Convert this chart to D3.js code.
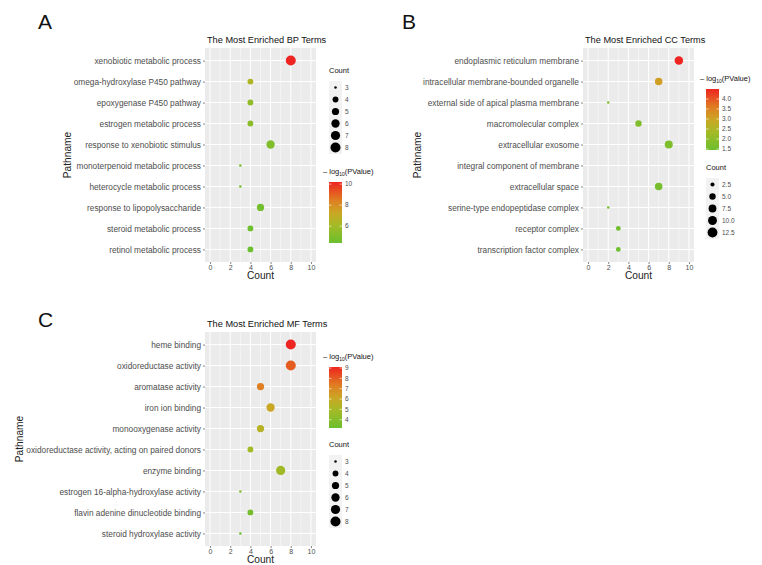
<!DOCTYPE html>
<html>
<head>
<meta charset="utf-8">
<script src="https://cdn.jsdelivr.net/npm/d3@7"></script>
<style>
  body { margin: 0; background: #fff; }
  svg text { font-family: "Liberation Sans", Arial, sans-serif; }
</style>
</head>
<body>
<div id="chart"></div>
<script>
// ---- data ----
const bpTerms = [
  "xenobiotic metabolic process",
  "omega-hydroxylase P450 pathway",
  "epoxygenase P450 pathway",
  "estrogen metabolic process",
  "response to xenobiotic stimulus",
  "monoterpenoid metabolic process",
  "heterocycle metabolic process",
  "response to lipopolysaccharide",
  "steroid metabolic process",
  "retinol metabolic process"
];
const bpCount = [8, 4, 4, 4, 6, 3, 3, 5, 4, 4];
const bpLogP = [10.2, 6.4, 5.5, 5.3, 5.0, 4.8, 4.7, 4.6, 4.5, 4.4];

const ccTerms = [
  "endoplasmic reticulum membrane",
  "intracellular membrane-bounded organelle",
  "external side of apical plasma membrane",
  "macromolecular complex",
  "extracellular exosome",
  "integral component of membrane",
  "extracellular space",
  "serine-type endopeptidase complex",
  "receptor complex",
  "transcription factor complex"
];
const ccCount = [9, 7, 2, 5, 8, 13, 7, 2, 3, 3];
const ccLogP = [4.5, 3.1, 1.8, 1.8, 1.7, 1.6, 1.6, 1.6, 1.55, 1.5];

const mfTerms = [
  "heme binding",
  "oxidoreductase activity",
  "aromatase activity",
  "iron ion binding",
  "monooxygenase activity",
  "oxidoreductase activity, acting on paired donors",
  "enzyme binding",
  "estrogen 16-alpha-hydroxylase activity",
  "flavin adenine dinucleotide binding",
  "steroid hydroxylase activity"
];
const mfCount = [8, 8, 5, 6, 5, 4, 7, 3, 4, 3];
const mfLogP = [9.1, 8.0, 7.3, 6.1, 5.5, 4.9, 4.8, 3.8, 3.5, 3.2];

const xTicks = [0, 2, 4, 6, 8, 10];
const bpSizeBreaks = [3, 4, 5, 6, 7, 8];
const ccSizeBreaks = [2.5, 5, 7.5, 10, 12.5];
const mfSizeBreaks = [3, 4, 5, 6, 7, 8];
const bpColorBreaks = [6, 8, 10];
const ccColorBreaks = [1.5, 2, 2.5, 3, 3.5, 4];
const mfColorBreaks = [4, 5, 6, 7, 8, 9];

// gradient: green -> yellow-gold -> red
const rampPos = [0, 0.3, 0.5, 0.7, 1];
const rampCol = ["#6cbf2e", "#a6ba26", "#cba624", "#df7e22", "#ee2420"];
const textGrey = "#4d4d4d";

const svg = d3.select("#chart").append("svg")
  .attr("width", 762).attr("height", 565);

function drawPanel(p) {
  const g = svg.append("g");
  const x = d3.scaleLinear().domain([-0.5, 10.5]).range([p.left, p.left + 111]);
  const y = d3.scalePoint().domain(p.terms).range([p.top, p.top + 214]).padding(0.6);
  const [c0, c1] = p.colorDomain;
  const color = d3.scaleLinear().domain(rampPos.map(t => c0 + t * (c1 - c0)))
    .range(rampCol).clamp(true);
  const [smin, smax] = p.sizeDomain;
  const radius = v => (2.5 + 7.5 * Math.sqrt(Math.max(0, (v - smin) / (smax - smin)))) / 2;

  const clipId = "clip-" + p.letter;
  g.append("clipPath").attr("id", clipId).append("rect")
    .attr("x", x.range()[0]).attr("y", p.top).attr("width", 111).attr("height", 214);

  // panel background + grid
  g.append("rect").attr("x", x.range()[0]).attr("y", p.top)
    .attr("width", 111).attr("height", 214).attr("fill", "#ebebeb");
  g.selectAll(".minor").data([-1, 1, 3, 5, 7, 9]).enter().append("line")
    .attr("x1", d => x(d)).attr("x2", d => x(d))
    .attr("y1", p.top).attr("y2", p.top + 214)
    .attr("stroke", "#fff").attr("stroke-width", 0.5)
    .attr("clip-path", `url(#${clipId})`);
  g.selectAll(".major").data(xTicks).enter().append("line")
    .attr("x1", d => x(d)).attr("x2", d => x(d))
    .attr("y1", p.top).attr("y2", p.top + 214)
    .attr("stroke", "#fff").attr("stroke-width", 1);
  g.selectAll(".hgrid").data(p.terms).enter().append("line")
    .attr("x1", x.range()[0]).attr("x2", x.range()[1])
    .attr("y1", d => y(d)).attr("y2", d => y(d))
    .attr("stroke", "#fff").attr("stroke-width", 1);

  // points
  const rows = p.terms.map((t, i) => ({ term: t, count: p.counts[i], logp: p.logp[i] }));
  g.append("g").attr("clip-path", `url(#${clipId})`)
    .selectAll("circle").data(rows).enter().append("circle")
    .attr("cx", d => x(d.count)).attr("cy", d => y(d.term))
    .attr("r", d => radius(d.count))
    .attr("fill", d => color(d.logp));

  // y axis
  const ya = g.append("g").attr("transform", `translate(${x.range()[0]},0)`)
    .call(d3.axisLeft(y).tickSize(2).tickPadding(2));
  ya.select(".domain").remove();
  ya.selectAll(".tick line").attr("stroke", "#333").attr("stroke-width", 0.6);
  ya.selectAll(".tick text").attr("fill", textGrey)
    .style("font-size", "8.3px").style("font-family", "Liberation Sans, Arial, sans-serif");

  // x axis
  const xa = g.append("g").attr("transform", `translate(0,${p.top + 214})`)
    .call(d3.axisBottom(x).tickValues(xTicks).tickSize(2).tickPadding(1));
  xa.select(".domain").remove();
  xa.selectAll(".tick line").attr("stroke", "#333").attr("stroke-width", 0.6);
  xa.selectAll(".tick text").attr("fill", textGrey)
    .style("font-size", "7px").style("font-family", "Liberation Sans, Arial, sans-serif");

  // titles
  g.append("text").attr("x", x.range()[0] + 2).attr("y", p.top - 5)
    .style("font-size", "9.2px").attr("fill", "#111").text(p.title);
  g.append("text").attr("x", p.letterX).attr("y", p.letterY)
    .style("font-size", "21px").attr("fill", "#111").text(p.letter);
  g.append("text").attr("x", (x.range()[0] + x.range()[1]) / 2).attr("y", p.top + 231)
    .attr("text-anchor", "middle").style("font-size", "10.2px").attr("fill", "#222").text("Count");
  g.append("text").attr("transform", `translate(${p.pathX},${p.top + 107}) rotate(-90)`)
    .attr("text-anchor", "middle").style("font-size", "10.2px").attr("fill", "#222").text("Pathname");

  // colour legend
  const cl = g.append("g").attr("transform", `translate(${p.colorLeg[0]},${p.colorLeg[1]})`);
  const ct = cl.append("text").attr("x", -6).attr("y", 0).style("font-size", "7.5px").attr("fill", "#111");
  ct.append("tspan").text("\u2013 log");
  ct.append("tspan").attr("dy", 2).style("font-size", "5px").text("10");
  ct.append("tspan").attr("dy", -2).text("(PValue)");
  const gradId = "grad-" + p.letter;
  const grad = cl.append("defs").append("linearGradient").attr("id", gradId)
    .attr("x1", 0).attr("y1", 1).attr("x2", 0).attr("y2", 0);
  d3.range(0, 1.01, 0.05).forEach(t => {
    grad.append("stop").attr("offset", t).attr("stop-color", color(c0 + t * (c1 - c0)));
  });
  const barH = 61;
  const cy = d3.scaleLinear().domain(p.colorDomain).range([8 + barH, 8]);
  cl.append("rect").attr("x", 0).attr("y", 8).attr("width", 13).attr("height", barH)
    .attr("fill", `url(#${gradId})`);
  cl.selectAll(".ctk").data(p.colorBreaks).enter().append("g").each(function (d) {
    const s = d3.select(this);
    s.append("line").attr("x1", 0).attr("x2", 2.5).attr("y1", cy(d)).attr("y2", cy(d))
      .attr("stroke", "#fff").attr("stroke-width", 0.6);
    s.append("line").attr("x1", 10.5).attr("x2", 13).attr("y1", cy(d)).attr("y2", cy(d))
      .attr("stroke", "#fff").attr("stroke-width", 0.6);
    s.append("text").attr("x", 16).attr("y", cy(d) + 2.3).style("font-size", "6.5px")
      .attr("fill", textGrey).text(p.colorFmt(d));
  });

  // size legend
  const sl = g.append("g").attr("transform", `translate(${p.sizeLeg[0]},${p.sizeLeg[1]})`);
  sl.append("text").attr("x", 0).attr("y", 0).style("font-size", "7.5px").attr("fill", "#111").text("Count");
  const n = p.sizeBreaks.length;
  sl.append("rect").attr("x", 0).attr("y", 8).attr("width", 13).attr("height", n * 12 + 1)
    .attr("fill", "#f2f2f2");
  sl.selectAll(".sk").data(p.sizeBreaks).enter().append("g").each(function (d, i) {
    const s = d3.select(this);
    const yy = 14.5 + i * 12;
    s.append("circle").attr("cx", 6.5).attr("cy", yy).attr("r", radius(d)).attr("fill", "#000");
    s.append("text").attr("x", 16).attr("y", yy + 2.3).style("font-size", "6.5px")
      .attr("fill", textGrey).text(p.sizeFmt(d));
  });
}

drawPanel({
  letter: "A", letterX: 38, letterY: 29, title: "The Most Enriched BP Terms",
  terms: bpTerms, counts: bpCount, logp: bpLogP,
  left: 205, top: 48, pathX: 71,
  colorDomain: [4.4, 10.2], colorBreaks: bpColorBreaks, colorFmt: d3.format("d"),
  sizeDomain: [3, 8], sizeBreaks: bpSizeBreaks, sizeFmt: d3.format("d"),
  colorLeg: [329, 174], sizeLeg: [329, 73]
});
drawPanel({
  letter: "B", letterX: 402, letterY: 29, title: "The Most Enriched CC Terms",
  terms: ccTerms, counts: ccCount, logp: ccLogP,
  left: 583, top: 48, pathX: 421,
  colorDomain: [1.45, 4.5], colorBreaks: ccColorBreaks, colorFmt: d3.format(".1f"),
  sizeDomain: [2, 13], sizeBreaks: ccSizeBreaks, sizeFmt: d3.format(".1f"),
  colorLeg: [706, 81], sizeLeg: [706, 170]
});
drawPanel({
  letter: "C", letterX: 38, letterY: 327, title: "The Most Enriched MF Terms",
  terms: mfTerms, counts: mfCount, logp: mfLogP,
  left: 205, top: 332, pathX: 23,
  colorDomain: [3.2, 9.1], colorBreaks: mfColorBreaks, colorFmt: d3.format("d"),
  sizeDomain: [3, 8], sizeBreaks: mfSizeBreaks, sizeFmt: d3.format("d"),
  colorLeg: [329, 359], sizeLeg: [329, 447]
});
</script>
</body>
</html>
